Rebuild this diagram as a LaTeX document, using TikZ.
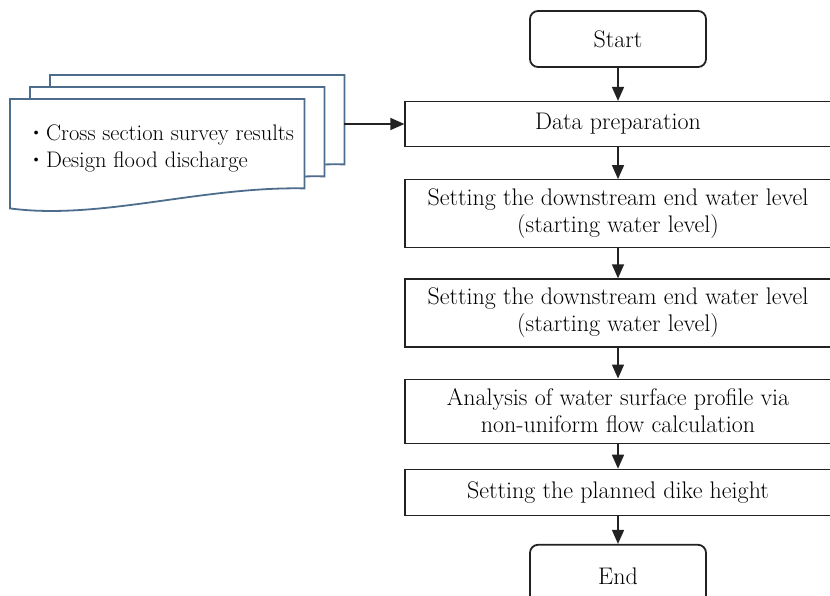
\documentclass[tikz,border=0pt]{standalone}
\usepackage{tikz}
\usetikzlibrary{positioning, arrows.meta, calc}
\definecolor{docBlue}{HTML}{4e6d8d}
\definecolor{flowInk}{HTML}{222222}
\newcommand{\docbullet}{\raisebox{0.3ex}{\scalebox{0.75}{\textbullet}}\,}
\newcommand{\docoutline}[1]{%
\draw[docline] (#1.north west) -- (#1.north east) -- ($(#1.south east)+(0,-20)$) .. controls ($(#1.south east)+(-104,-22)$) and ($(#1.south west)+(90,12)$) .. (#1.south west) -- cycle;}

\begin{document}
\begin{tikzpicture}[x=1pt, y=-1pt,
termbox/.style={draw=flowInk, line width=1.8pt, rounded corners=8pt, minimum width=176pt, minimum height=56pt, font=\fontsize{24}{27}\selectfont},
procbox/.style={draw=flowInk, line width=1.2pt, minimum width=426pt, align=center, font=\fontsize{24}{27}\selectfont},
docpage/.style={minimum width=294pt, minimum height=109pt, inner sep=0pt},
docline/.style={draw=docBlue, line width=1.8pt, fill=white},
doctext/.style={align=left, font=\fontsize{22.5}{27}\selectfont, inner sep=0pt},
flowarrow/.style={-{Triangle[length=14pt, width=12pt]}, line width=1.5pt, color=flowInk}]
\useasboundingbox (0,0) rectangle (830,595);
% input documents
\node[docpage, anchor=north west] (docback) at (50,75) {};
\node[docpage, anchor=north west] (docmid) at (30,87) {};
\node[docpage, anchor=north west] (docfront) at (10,99) {};
\docoutline{docback} \docoutline{docmid} \docoutline{docfront}
\node[doctext, anchor=west] (items) at ($(docfront.west)+(20,-5)$) {\docbullet Cross section survey results\\\docbullet Design flood discharge};
% flow
\node[termbox] (start) at (618,39) {Start};
\node[procbox, minimum height=45pt, below=33pt of start] (dataprep) {Data preparation};
\node[procbox, minimum height=68pt, below=32pt of dataprep] (downA) {Setting the downstream end water level\\(starting water level)};
\node[procbox, minimum height=68pt, below=30pt of downA] (downB) {Setting the downstream end water level\\(starting water level)};
\node[procbox, minimum height=64pt, below=31pt of downB] (profile) {Analysis of water surface profile via\\non-uniform flow calculation};
\node[procbox, minimum height=46pt, below=25pt of profile] (dike) {Setting the planned dike height};
\node[termbox, minimum height=62pt, below=28pt of dike] (end) {End};
\foreach \a/\b in {start/dataprep, dataprep/downA, downA/downB, downB/profile, profile/dike, dike/end}
  \draw[flowarrow] (\a) -- (\b);
\coordinate (feed) at (docback.east |- dataprep.west);
\draw[flowarrow] (feed) -- (dataprep.west);
\end{tikzpicture}
\end{document}
